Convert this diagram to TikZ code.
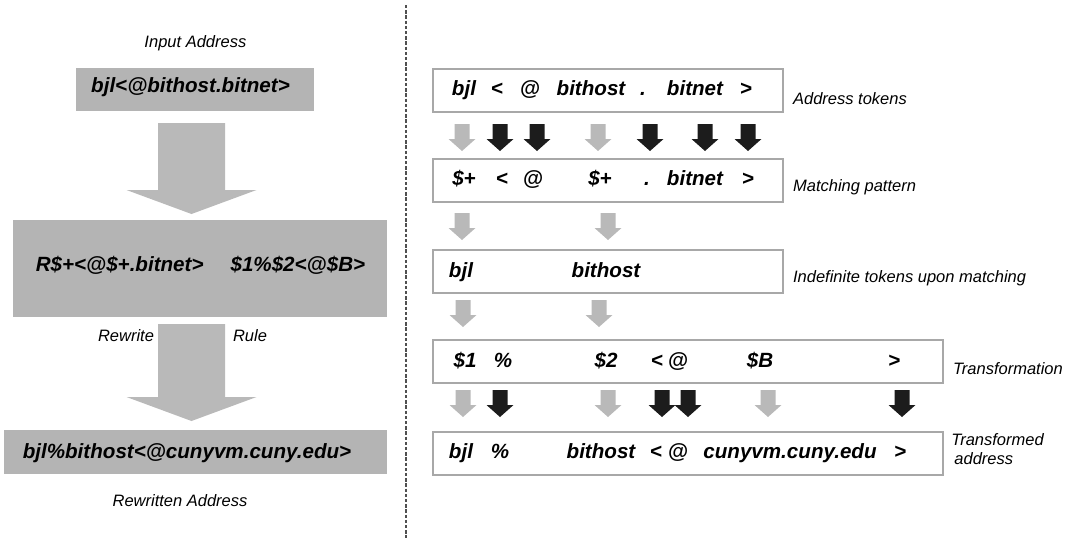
\documentclass[tikz,border=0pt]{standalone}
\usepackage{fontspec}
\setmainfont{Liberation Sans}
\usetikzlibrary{positioning}
\definecolor{boxgray}{HTML}{B4B4B4}
\definecolor{linegray}{HTML}{A8A8A8}
\definecolor{arrowgray}{HTML}{B9B9B9}
\definecolor{arrowblack}{HTML}{1C1C1C}
\definecolor{sepgray}{HTML}{505050}

\tikzset{
  tok/.style={font=\fontsize{10.3}{12}\selectfont\bfseries\itshape, inner sep=0pt, anchor=base},
  note/.style={font=\fontsize{8.25}{9.5}\selectfont\itshape, inner sep=0pt, anchor=base},
  graybox/.style={fill=boxgray, inner sep=0pt, anchor=north west},
  rowbox/.style={draw=linegray, line width=0.85pt, inner sep=0pt, anchor=north west, minimum height=21.5pt},
  pics/tokarrow/.style={code={
    \fill[fill=#1] (-7.5,0) -- (7.5,0) -- (7.5,15) -- (13.5,15) -- (0,27) -- (-13.5,15) -- (-7.5,15) -- cycle;}},
  pics/bigarrow/.style={code={
    \fill[arrowgray] (-33.5,0) -- (33.5,0) -- (33.5,#1) -- (65,#1) -- (0,#1+24) -- (-65,#1) -- (-33.5,#1) -- cycle;}},
}

\begin{document}
\begin{tikzpicture}[x=0.5pt, y=-0.5pt]
\useasboundingbox (0,0) rectangle (1069,541);

% Left: the rewrite rule applied as a whole
\node[graybox, minimum width=119pt, minimum height=21.5pt] (inbox) at (76,68) {};
\node[tok] (intext) at (190.5,92) {bjl<@bithost.bitnet>};
\node[note, above=10.5pt of inbox.north, anchor=base] (inlabel) {Input Address};

\pic at (191.5,123) {bigarrow=67};

\node[graybox, minimum width=187pt, minimum height=48.5pt] (rulebox) at (13,220) {};
\node[tok] (ruletext) at (200.5,271) {R\$+<@\$+.bitnet>\hspace{13.5pt}\$1\%\$2<@\$B>};

\pic at (191.5,324) {bigarrow=73};
\node[note] (rewrite) at (126,341) {Rewrite};
\node[note] (rule) at (250,341) {Rule};

\node[graybox, minimum width=191.5pt, minimum height=22pt] (outbox) at (4,430) {};
\node[tok] (outtext) at (187,458) {bjl\%bithost<@cunyvm.cuny.edu>};
\node[note] (outlabel) at (180,506) {Rewritten Address};

% Separator
\coordinate (septop) at (406,5);
\coordinate (sepbot) at (406,538);
\draw[sepgray, line width=0.65pt, dash pattern=on 1.7pt off 0.9pt] (septop) -- (sepbot);

% Right: token by token
\node[rowbox, minimum width=175pt] (row1) at (432,68) {};
\node[rowbox, minimum width=175pt] (row2) at (432,158) {};
\node[rowbox, minimum width=175pt] (row3) at (432,249) {};
\node[rowbox, minimum width=255pt] (row4) at (432,339) {};
\node[rowbox, minimum width=255pt] (row5) at (432,431) {};

\foreach \x/\t [count=\i] in {464/bjl, 497/<, 530/@, 591/bithost, 643/., 695/bitnet, 746/>}
  \node[tok] (addr\i) at (\x,95) {\t};
\foreach \x/\t [count=\i] in {464/\$+, 502/<, 533/@, 600/\$+, 647/., 695/bitnet, 748/>}
  \node[tok] (pat\i) at (\x,185) {\t};
\foreach \x/\t [count=\i] in {461/bjl, 606/bithost}
  \node[tok] (ind\i) at (\x,277) {\t};
\foreach \x/\t [count=\i] in {465/\$1, 503/\%, 606/\$2, 657/<, 678/@, 760/\$B, 894/>}
  \node[tok] (trf\i) at (\x,367) {\t};
\foreach \x/\t [count=\i] in {461/bjl, 500/\%, 601/bithost, 656/<, 678/@, 790/cunyvm.cuny.edu, 900/>}
  \node[tok] (res\i) at (\x,458) {\t};

% arrows between the rows
\foreach \x/\c in {462/arrowgray, 500/arrowblack, 537/arrowblack, 598/arrowgray, 650/arrowblack, 705/arrowblack, 748/arrowblack}
  \pic at (\x,124) {tokarrow=\c};
\foreach \x/\c in {462/arrowgray, 608/arrowgray}
  \pic at (\x,213) {tokarrow=\c};
\foreach \x/\c in {463/arrowgray, 599/arrowgray}
  \pic at (\x,300) {tokarrow=\c};
\foreach \x/\c in {463/arrowgray, 500/arrowblack, 608/arrowgray, 662/arrowblack, 688/arrowblack, 768/arrowgray, 902/arrowblack}
  \pic at (\x,390) {tokarrow=\c};

% row labels
\node[note, above right=4pt and 4.5pt of row1.south east, anchor=base west] (lab1) {Address tokens};
\node[note, above right=5.5pt and 4.5pt of row2.south east, anchor=base west] (lab2) {Matching pattern};
\node[note, above right=5.5pt and 4.5pt of row3.south east, anchor=base west] (lab3) {Indefinite tokens upon matching};
\node[note, above right=4.5pt and 4.5pt of row4.south east, anchor=base west] (lab4) {Transformation};
\node[note, align=left, anchor=north west] (lab5) at (951,433) {Transformed\\\hspace*{1.5pt}address};

\end{tikzpicture}
\end{document}
